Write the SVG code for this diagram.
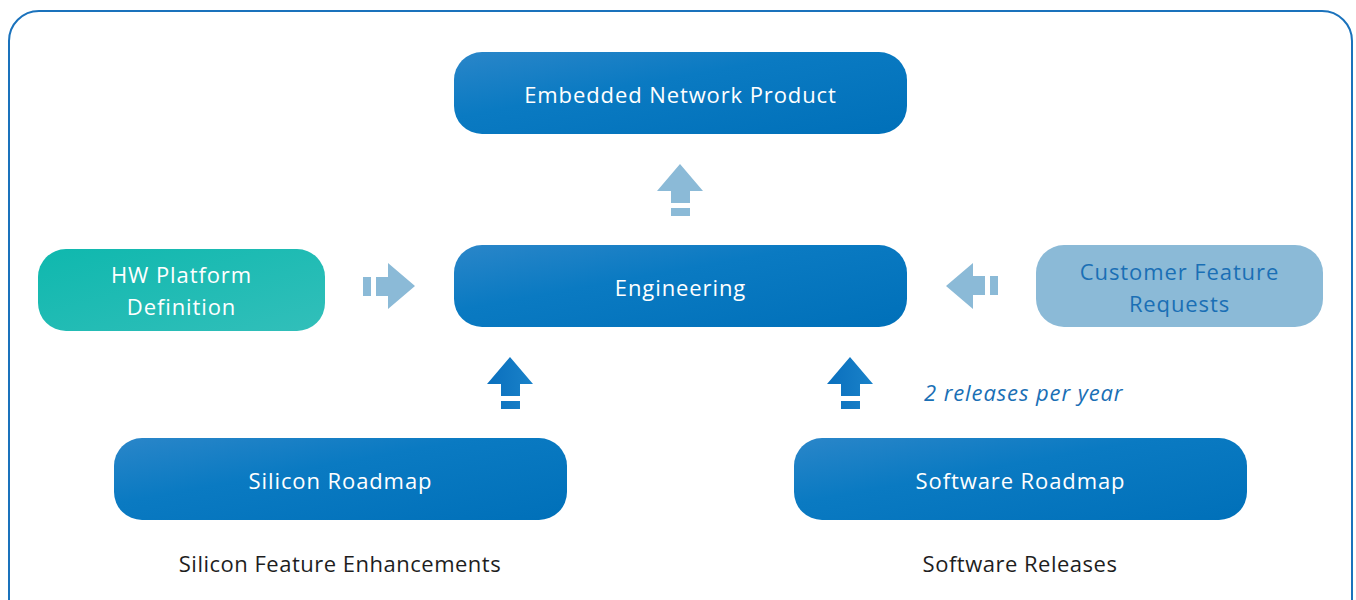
<svg xmlns="http://www.w3.org/2000/svg" width="1356" height="600" viewBox="0 0 1356 600">
<defs>
<linearGradient id="gBlue" x1="0" y1="0" x2="1" y2="1">
<stop offset="0" stop-color="#2a86c9"/>
<stop offset="0.4" stop-color="#0a7ac2"/>
<stop offset="1" stop-color="#0070b9"/>
</linearGradient>
<linearGradient id="gTeal" x1="0" y1="0" x2="1" y2="1">
<stop offset="0" stop-color="#0fb8ae"/>
<stop offset="1" stop-color="#32bfba"/>
</linearGradient>
<linearGradient id="gArrow" x1="0" y1="0" x2="1" y2="0">
<stop offset="0" stop-color="#0a6fbd"/>
<stop offset="1" stop-color="#1a82c9"/>
</linearGradient>
<path id="upArrow" d="M0,0 L23,27 L10,27 L10,39 L-9,39 L-9,27 L-23,27 Z M-9,44 L10,44 L10,52 L-9,52 Z"/>
</defs>
<style>
.node-text{font-family:"Open Sans","DejaVu Sans",sans-serif;font-size:22px;fill:#ffffff;text-anchor:middle;letter-spacing:0.9px}
.label{font-family:"Open Sans","DejaVu Sans",sans-serif;font-size:22px;fill:#1e1e1e;text-anchor:middle;letter-spacing:0.5px}
.note{font-family:"Open Sans","DejaVu Sans",sans-serif;font-size:22px;fill:#1a6fb5;font-style:italic;letter-spacing:0.9px}
</style>
<rect x="0" y="0" width="1356" height="600" fill="#ffffff"/>
<rect id="frame" x="9" y="11" width="1343" height="620" rx="30" ry="30" fill="none" stroke="#1a72bc" stroke-width="2"/>

<g id="embedded-network-product">
<rect x="454" y="52" width="453" height="82" rx="28" ry="28" fill="url(#gBlue)"/>
<text class="node-text" x="680.5" y="103">Embedded Network Product</text>
</g>
<g id="engineering">
<rect x="454" y="245" width="453" height="82" rx="28" ry="28" fill="url(#gBlue)"/>
<text class="node-text" x="680.5" y="296">Engineering</text>
</g>
<g id="hw-platform-definition">
<rect x="38" y="249" width="287" height="82" rx="28" ry="28" fill="url(#gTeal)"/>
<text class="node-text" x="181.5" y="283">HW Platform</text>
<text class="node-text" x="181.5" y="315">Definition</text>
</g>
<g id="customer-feature-requests">
<rect x="1036" y="245" width="287" height="82" rx="28" ry="28" fill="#8bbad7"/>
<text class="node-text" x="1179.5" y="280" style="fill:#1a6fb5">Customer Feature</text>
<text class="node-text" x="1179.5" y="312" style="fill:#1a6fb5">Requests</text>
</g>
<g id="silicon-roadmap">
<rect x="114" y="438" width="453" height="82" rx="28" ry="28" fill="url(#gBlue)"/>
<text class="node-text" x="340.5" y="489">Silicon Roadmap</text>
</g>
<g id="software-roadmap">
<rect x="794" y="438" width="453" height="82" rx="28" ry="28" fill="url(#gBlue)"/>
<text class="node-text" x="1020.5" y="489">Software Roadmap</text>
</g>

<g id="connectors">
<use href="#upArrow" transform="translate(680,164)" fill="#8bbad7"/>
<use href="#upArrow" transform="translate(389,286) rotate(90) translate(0,-26)" fill="#8bbad7"/>
<use href="#upArrow" transform="translate(973,286) rotate(-90) translate(0,-27)" fill="#8bbad7"/>
<use href="#upArrow" transform="translate(510,357)" fill="url(#gArrow)"/>
<use href="#upArrow" transform="translate(850,357)" fill="url(#gArrow)"/>
</g>

<text class="note" x="924" y="401">2 releases per year</text>
<text class="label" x="340" y="572">Silicon Feature Enhancements</text>
<text class="label" x="1020" y="572">Software Releases</text>
</svg>
